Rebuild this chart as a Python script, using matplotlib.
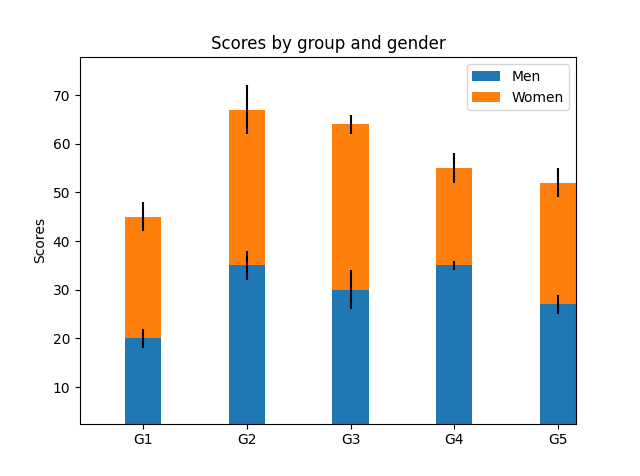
import matplotlib
matplotlib.use("Agg")
import matplotlib.pyplot as plt
import numpy as np

labels = ['G1', 'G2', 'G3', 'G4', 'G5']
men_means = [20, 35, 30, 35, 27]
women_means = [25, 32, 34, 20, 25]
men_std = [2, 3, 4, 1, 2]
women_std = [3, 5, 2, 3, 3]
width = 0.35

fig, ax = plt.subplots(figsize=(6.4, 4.76), dpi=100)
ax.bar(labels, men_means, width, yerr=men_std, label='Men')
ax.bar(labels, women_means, width, yerr=women_std, bottom=men_means, label='Women')
ax.set_ylabel('Scores')
ax.set_title('Scores by group and gender')
ax.set_ylim(2.5, 77.8)
ax.set_xlim(-0.61, 4.175)
ax.legend()
fig.savefig('out.png', dpi=100)
